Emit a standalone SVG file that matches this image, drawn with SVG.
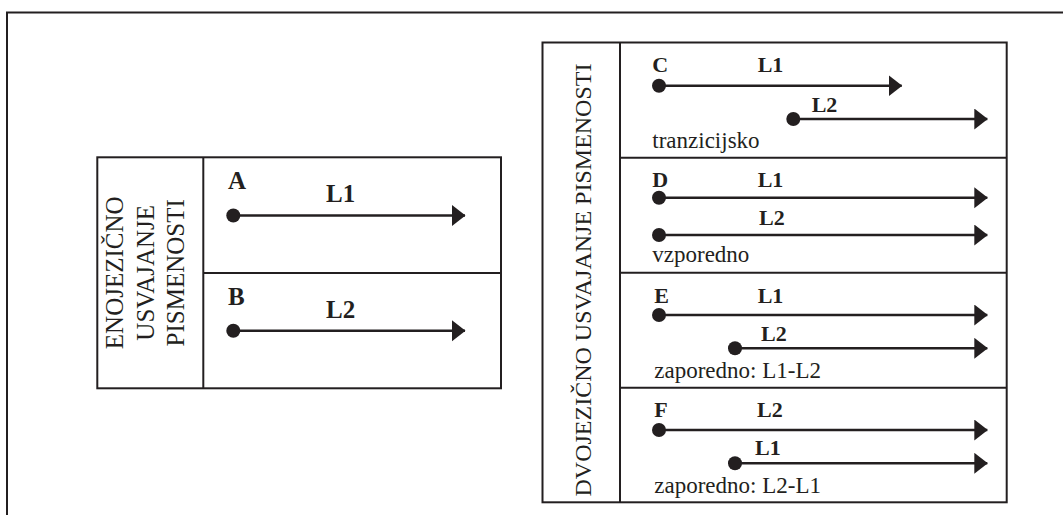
<svg xmlns="http://www.w3.org/2000/svg" width="1063" height="515" viewBox="0 0 1063 515">
<style>
.frame{fill:none;stroke:#231f20;stroke-width:2}
.grid{fill:none;stroke:#231f20;stroke-width:2}
.ln{stroke:#231f20;stroke-width:2.5;fill:none;marker-start:url(#dot);marker-end:url(#head)}
.side{font-family:"Liberation Serif","Times New Roman",serif;fill:#231f20;text-anchor:middle}
.lbl{font-family:"Liberation Serif","Times New Roman",serif;font-weight:bold;fill:#231f20}
.desc{font-family:"Liberation Serif","Times New Roman",serif;font-size:23px;fill:#231f20}
</style>
<defs>
<marker id="head" markerUnits="userSpaceOnUse" markerWidth="15" markerHeight="22" refX="13" refY="10.5" orient="auto">
<path d="M0,0 L13.5,10.5 L0,21 Z" fill="#231f20"/>
</marker>
<marker id="dot" markerUnits="userSpaceOnUse" markerWidth="16" markerHeight="16" refX="8" refY="8" orient="auto">
<circle cx="8" cy="8" r="7" fill="#231f20"/>
</marker>
</defs>
<rect width="1063" height="515" fill="#ffffff"/>
<path class="frame" d="M7,515 V12.5 H1063"/>

<g id="left-table">
<rect class="grid" x="97.3" y="157.3" width="403.7" height="231"/>
<line class="grid" x1="203.3" y1="157.3" x2="203.3" y2="388.3"/>
<line class="grid" x1="203.3" y1="273" x2="501" y2="273"/>
<g class="side" font-size="25">
<text transform="translate(123.3,272.8) rotate(-90)">ENOJEZIČNO</text>
<text transform="translate(153.8,272.8) rotate(-90)">USVAJANJE</text>
<text transform="translate(184.3,272.8) rotate(-90)">PISMENOSTI</text>
</g>
</g>

<g id="node-A">
<text class="lbl" x="228" y="189" font-size="25">A</text>
<text class="lbl" x="326" y="202" font-size="25">L1</text>
</g>
<g id="node-B">
<text class="lbl" x="228" y="305" font-size="25">B</text>
<text class="lbl" x="326" y="317.7" font-size="25">L2</text>
</g>

<g id="right-table">
<rect class="grid" x="542.5" y="42.5" width="464.2" height="459.8"/>
<line class="grid" x1="620" y1="42.5" x2="620" y2="502.3"/>
<line class="grid" x1="620" y1="157.7" x2="1006.7" y2="157.7"/>
<line class="grid" x1="620" y1="272.7" x2="1006.7" y2="272.7"/>
<line class="grid" x1="620" y1="387.7" x2="1006.7" y2="387.7"/>
<text class="side" font-size="24" transform="translate(590.7,280) rotate(-90)">DVOJEZIČNO USVAJANJE PISMENOSTI</text>
</g>

<g id="node-C">
<text class="lbl" x="652.3" y="72.3" font-size="22">C</text>
<text class="lbl" x="757.7" y="72.3" font-size="22">L1</text>
<text class="lbl" x="811.7" y="111.7" font-size="22">L2</text>
<text class="desc" x="652.3" y="147.5">tranzicijsko</text>
</g>
<g id="node-D">
<text class="lbl" x="652.3" y="186.7" font-size="22">D</text>
<text class="lbl" x="757.7" y="186.7" font-size="22">L1</text>
<text class="lbl" x="759" y="225" font-size="22">L2</text>
<text class="desc" x="652.3" y="261.7">vzporedno</text>
</g>
<g id="node-E">
<text class="lbl" x="654.3" y="302.7" font-size="22">E</text>
<text class="lbl" x="757.7" y="302.7" font-size="22">L1</text>
<text class="lbl" x="761" y="341" font-size="22">L2</text>
<text class="desc" x="654.3" y="378.3">zaporedno: L1-L2</text>
</g>
<g id="node-F">
<text class="lbl" x="654.3" y="417.3" font-size="22">F</text>
<text class="lbl" x="757" y="417.3" font-size="22">L2</text>
<text class="lbl" x="755" y="455" font-size="22">L1</text>
<text class="desc" x="654.3" y="492.7">zaporedno: L2-L1</text>
</g>

<g id="connectors">
<line class="ln" x1="233.3" y1="215.5" x2="465" y2="215.5"/>
<line class="ln" x1="233.3" y1="330.7" x2="465" y2="330.7"/>
<line class="ln" x1="659" y1="85.7" x2="901.7" y2="85.7"/>
<line class="ln" x1="793.3" y1="119" x2="987.3" y2="119"/>
<line class="ln" x1="659" y1="197.7" x2="987.3" y2="197.7"/>
<line class="ln" x1="659" y1="235" x2="987.3" y2="235"/>
<line class="ln" x1="659" y1="315" x2="987.3" y2="315"/>
<line class="ln" x1="735" y1="348.3" x2="987.3" y2="348.3"/>
<line class="ln" x1="659" y1="430" x2="987.3" y2="430"/>
<line class="ln" x1="735" y1="463.3" x2="987.3" y2="463.3"/>
</g>
</svg>
